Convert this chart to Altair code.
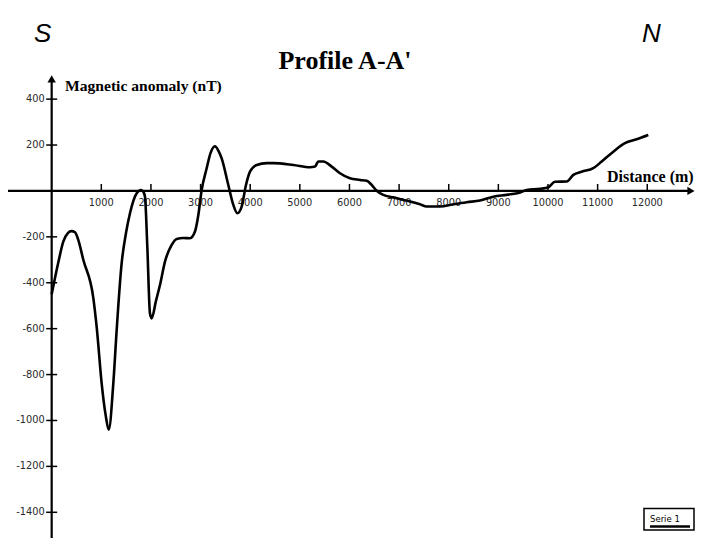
import altair as alt
import pandas as pd

# ---- data ----
distance = [0, 130, 234, 330, 400, 470, 536, 637, 838, 910, 1007, 1090, 1150,
            1242, 1310, 1410, 1500, 1578, 1713, 1800, 1850, 1880, 1927, 1980,
            2015, 2100, 2182, 2283, 2418, 2518, 2650, 2787, 2887, 2955, 3022,
            3123, 3200, 3290, 3360, 3425, 3559, 3660, 3740, 3828, 3915, 3996,
            4131, 4332, 4466, 4869, 5205, 5305, 5372, 5473, 5642, 5809, 6010,
            6212, 6347, 6448, 6548, 6681, 6883, 7084, 7219, 7421, 7556, 7824,
            8092, 8362, 8630, 8898, 9168, 9437, 9571, 9840, 10006, 10141,
            10377, 10510, 10679, 10913, 11082, 11316, 11551, 11787, 12021]
anomaly = [-450, -315, -221, -183, -175, -180, -213, -300, -465, -600,
           -838, -980, -1040, -838, -605, -315, -180, -97, -10, 4, -5, -25, -243,
           -533, -555, -480, -410, -308, -235, -209, -205, -206, -177, -105,
           4, 99, 165, 195, 175, 142, 26, -61, -97, -68, 26, 84, 113, 121,
           121, 113, 103, 106, 128, 128, 106, 77, 55, 48, 44, 26, 1, -17, -28,
           -39, -46, -58, -68, -68, -58, -49, -42, -25, -17, -7, 4, 9, 16, 40,
           41, 70, 84, 99, 128, 171, 208, 225, 244]
x_ticks = [1000, 2000, 3000, 4000, 5000, 6000, 7000, 8000, 9000, 10000, 11000, 12000]
y_ticks = [400, 200, -200, -400, -600, -800, -1000, -1200, -1400]

# ---- layout ----
W, H = 687, 530
X_DOMAIN = [-880, 12962]
Y_DOMAIN = [-1512, 797]
X_ARROW = 12881
Y_ARROW = 488

xs = alt.Scale(domain=X_DOMAIN, nice=False, zero=False)
ys = alt.Scale(domain=Y_DOMAIN, nice=False, zero=False)

df = pd.DataFrame({"d": distance, "a": anomaly})
xt = pd.DataFrame({"v": x_ticks, "z": [0] * len(x_ticks), "t": [str(v) for v in x_ticks]})
yt = pd.DataFrame({"v": y_ticks, "z": [0] * len(y_ticks), "t": [str(v) for v in y_ticks]})

curve = alt.Chart(df).mark_line(color="black", strokeWidth=2.6, interpolate="monotone").encode(
    x=alt.X("d:Q", scale=xs, axis=None),
    y=alt.Y("a:Q", scale=ys, axis=None),
)

xaxis = alt.Chart(pd.DataFrame({"x": [X_DOMAIN[0]], "x2": [X_ARROW], "y": [0]})).mark_rule(
    color="black", strokeWidth=2.2).encode(
    x=alt.X("x:Q", scale=xs, axis=None), x2="x2:Q", y=alt.Y("y:Q", scale=ys, axis=None))
yaxis = alt.Chart(pd.DataFrame({"x": [0], "y": [Y_DOMAIN[0]], "y2": [Y_ARROW]})).mark_rule(
    color="black", strokeWidth=2.2).encode(
    x=alt.X("x:Q", scale=xs, axis=None), y=alt.Y("y:Q", scale=ys, axis=None), y2="y2:Q")

xarrow = alt.Chart(pd.DataFrame({"x": [X_ARROW], "y": [0]})).mark_point(
    shape="triangle-right", filled=True, size=70, color="black", opacity=1).encode(
    x=alt.X("x:Q", scale=xs, axis=None), y=alt.Y("y:Q", scale=ys, axis=None))
yarrow = alt.Chart(pd.DataFrame({"x": [0], "y": [Y_ARROW]})).mark_point(
    shape="triangle-up", filled=True, size=70, color="black", opacity=1).encode(
    x=alt.X("x:Q", scale=xs, axis=None), y=alt.Y("y:Q", scale=ys, axis=None))

xticks = alt.Chart(xt).mark_tick(orient="vertical", size=7, thickness=1.5, color="black",
                                 yOffset=-3.5, opacity=1).encode(
    x=alt.X("v:Q", scale=xs, axis=None), y=alt.Y("z:Q", scale=ys, axis=None))
yticks = alt.Chart(yt).mark_tick(orient="horizontal", size=11, thickness=1.5, color="black",
                                 opacity=1).encode(
    x=alt.X("z:Q", scale=xs, axis=None), y=alt.Y("v:Q", scale=ys, axis=None))

xlabels = alt.Chart(xt).mark_text(font="DejaVu Sans", fontSize=9.8, color="#2a2a2a",
                                  baseline="middle", align="center", dy=12).encode(
    x=alt.X("v:Q", scale=xs, axis=None), y=alt.Y("z:Q", scale=ys, axis=None), text="t:N")
ylabels = alt.Chart(yt).mark_text(font="DejaVu Sans", fontSize=9.8, color="#2a2a2a",
                                  baseline="middle", align="right", dx=-7).encode(
    x=alt.X("z:Q", scale=xs, axis=None), y=alt.Y("v:Q", scale=ys, axis=None), text="t:N")


def label(txt, x, y, **kw):
    return alt.Chart(pd.DataFrame({"t": [txt]})).mark_text(**kw).encode(
        x=alt.value(x), y=alt.value(y), text="t:N")


s_lab = label("S", 26, 34, font="Liberation Sans", fontSize=26, fontStyle="italic",
              align="left", baseline="alphabetic", color="black")
n_lab = label("N", 634, 34, font="Liberation Sans", fontSize=26, fontStyle="italic",
              align="left", baseline="alphabetic", color="black")
title = label("Profile A-A'", 337, 61, font="Liberation Serif", fontSize=26, fontWeight="bold",
              align="center", baseline="alphabetic", color="black")
ylab = label("Magnetic anomaly (nT)", 57, 83, font="Liberation Serif", fontSize=15.6,
             fontWeight="bold", align="left", baseline="alphabetic", color="black")
xlab = label("Distance (m)", 599, 174, font="Liberation Serif", fontSize=16,
             fontWeight="bold", align="left", baseline="alphabetic", color="black")

legend_box = alt.Chart(pd.DataFrame({"t": ["box"]})).mark_rect(
    fill="white", stroke="black", strokeWidth=1.5).encode(
    x=alt.value(636), x2=alt.value(686), y=alt.value(500.5), y2=alt.value(522))
legend_txt = label("Serie 1", 642, 513.5, font="DejaVu Sans", fontSize=8.5, align="left",
                   baseline="alphabetic", color="black")
legend_line = alt.Chart(pd.DataFrame({"t": ["line"]})).mark_rule(
    color="black", strokeWidth=2.5).encode(
    x=alt.value(642), x2=alt.value(682), y=alt.value(518.5))

chart = alt.layer(
    xaxis, yaxis, xarrow, yarrow, xticks, yticks, xlabels, ylabels, curve,
    s_lab, n_lab, title, ylab, xlab, legend_box, legend_txt, legend_line,
).properties(
    width=W, height=H, padding=0, background="white",
    autosize=alt.AutoSizeParams(type="none"),
).configure_view(stroke=None)

chart.save("out.html", embed_options={"renderer": "svg", "actions": False})
